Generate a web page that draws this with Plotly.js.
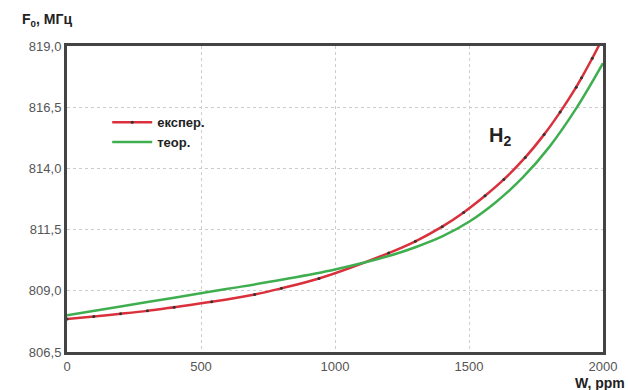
<!DOCTYPE html>
<html>
<head>
<meta charset="utf-8">
<script src="https://cdn.plot.ly/plotly-3.0.1.min.js"></script>
<style>html,body{margin:0;padding:0;background:#fff;}#chart{width:628px;height:390px;}</style>
</head>
<body>
<div id="chart"></div>
<script>
// Experimental series (red, with markers)
var expW = [0, 100, 200, 300, 400, 540, 700, 800, 940, 1200, 1300, 1400, 1480, 1560, 1630, 1710, 1780, 1840, 1900, 1920, 1960, 2000];
var expF = [807.85, 807.95, 808.06, 808.18, 808.33, 808.55, 808.85, 809.1, 809.5, 810.54, 811.02, 811.62, 812.2, 812.88, 813.55, 814.45, 815.38, 816.3, 817.32, 817.7, 818.5, 819.35];
// Theoretical series (green)
var theoW = [0, 200, 400, 600, 800, 1000, 1200, 1300, 1400, 1500, 1600, 1700, 1800, 1900, 2000];
var theoF = [808.0, 808.36, 808.72, 809.08, 809.45, 809.87, 810.42, 810.78, 811.22, 811.82, 812.62, 813.62, 814.88, 816.45, 818.3];
// Tick labels
var yTickVals = [806.5, 809.0, 811.5, 814.0, 816.5, 819.0];
var yTickText = ['806,5', '809,0', '811,5', '814,0', '816,5', '819,0'];
var xTickVals = [0, 500, 1000, 1500, 2000];
var xTickText = ['0', '500', '1000', '1500', '2000'];

var traces = [
  {
    x: expW, y: expF, type: 'scatter', mode: 'lines+markers', name: 'експер.',
    line: {color: '#d9303c', width: 2.5, shape: 'spline', smoothing: 1},
    marker: {color: '#333333', size: 3}
  },
  {
    x: theoW, y: theoF, type: 'scatter', mode: 'lines', name: 'теор.',
    line: {color: '#3fae4f', width: 2.5, shape: 'spline', smoothing: 1}
  }
];

var layout = {
  width: 628, height: 390,
  margin: {l: 67, r: 25, t: 46, b: 38},
  paper_bgcolor: '#ffffff', plot_bgcolor: '#ffffff',
  font: {family: 'Liberation Sans, Arial, sans-serif', color: '#555555', size: 13},
  showlegend: true,
  legend: {
    x: 0.075, y: 0.8, xanchor: 'left', yanchor: 'top',
    bgcolor: 'rgba(0,0,0,0)',
    font: {family: 'Liberation Sans, Arial, sans-serif', size: 13, color: '#222222', weight: 'bold'},
    itemwidth: 40, tracegroupgap: 0
  },
  xaxis: {
    range: [0, 2000], tickvals: xTickVals, ticktext: xTickText,
    showgrid: true, gridcolor: '#cccccc', griddash: 'dot', gridwidth: 1,
    showline: true, linecolor: '#444444', linewidth: 3, mirror: true,
    ticks: '', zeroline: false, tickfont: {size: 13, color: '#555555'}
  },
  yaxis: {
    range: [806.5, 819.0], tickvals: yTickVals, ticktext: yTickText,
    showgrid: true, gridcolor: '#cccccc', griddash: 'dot', gridwidth: 1,
    showline: true, linecolor: '#444444', linewidth: 3, mirror: true,
    ticks: '', zeroline: false, tickfont: {size: 13, color: '#555555'}
  },
  annotations: [
    {text: 'F<sub>0</sub>, МГц', xref: 'paper', yref: 'paper', x: -0.088, y: 1.085, xanchor: 'left', yanchor: 'middle', showarrow: false,
     font: {family: 'Liberation Sans, Arial, sans-serif', size: 14, color: '#222222', weight: 'bold'}},
    {text: 'W, ppm', xref: 'paper', yref: 'paper', x: 1.045, y: -0.1, xanchor: 'right', yanchor: 'middle', showarrow: false,
     font: {family: 'Liberation Sans, Arial, sans-serif', size: 14, color: '#222222', weight: 'bold'}},
    {text: 'H<sub>2</sub>', xref: 'x', yref: 'y', x: 1615, y: 815.3, xanchor: 'center', yanchor: 'middle', showarrow: false,
     font: {family: 'Liberation Sans, Arial, sans-serif', size: 20, color: '#222222', weight: 'bold'}}
  ]
};

Plotly.newPlot('chart', traces, layout, {displayModeBar: false, staticPlot: true});
</script>
</body>
</html>
